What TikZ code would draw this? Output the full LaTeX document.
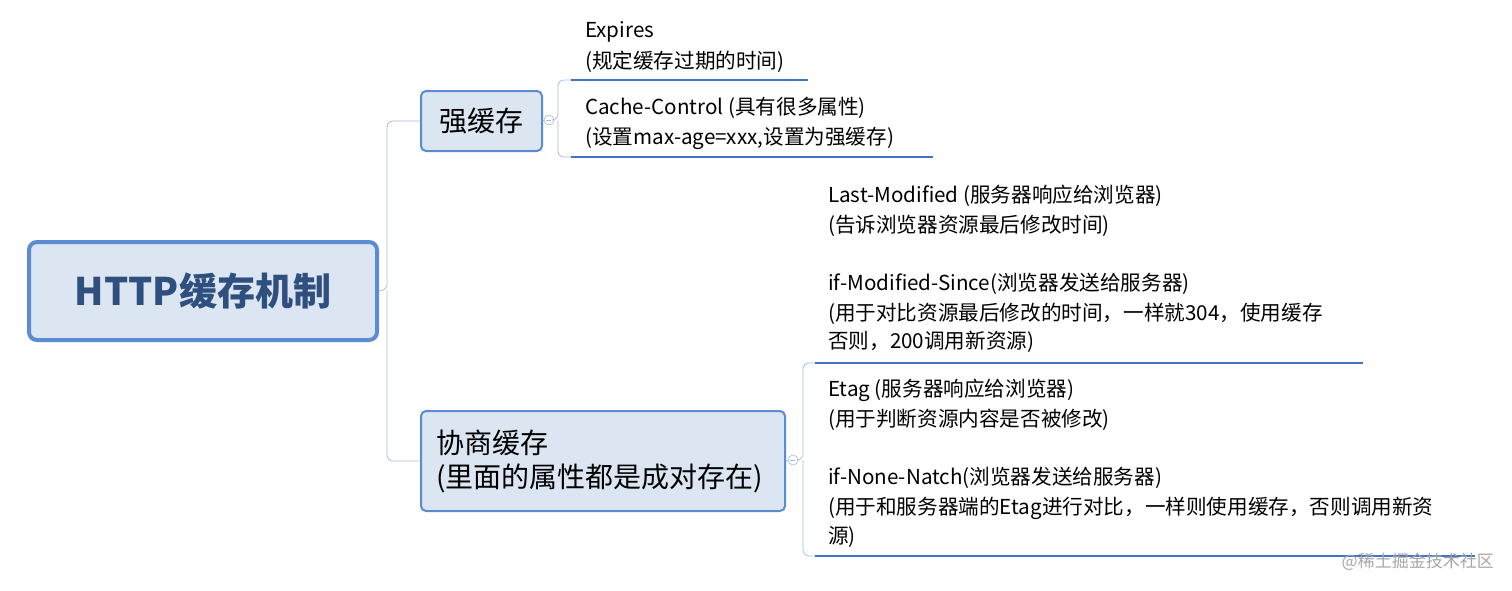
\documentclass[tikz,border=0pt]{standalone}
\usepackage{fontspec}
\setmainfont{Noto Sans CJK SC}
\definecolor{bord}{HTML}{5B8BD0}
\definecolor{fillb}{HTML}{DCE6F2}
\definecolor{uline}{HTML}{4472C4}
\definecolor{conn}{HTML}{A6BCDC}
\definecolor{maintxt}{HTML}{2F4F7F}
\begin{document}
\begin{tikzpicture}[x=1pt,y=-1pt,
  box/.style={draw=bord,fill=fillb,rounded corners=5pt,line width=2pt,inner sep=0pt,anchor=north west},
  lbl/.style={anchor=west,inner sep=0pt,font=\fontsize{20.6}{24}\selectfont},
  ul/.style={draw=uline,line width=2pt},
  cn/.style={draw=conn,line width=0.8pt,rounded corners=6pt},
  knob/.style={circle,draw=conn,fill=white,minimum size=10pt,inner sep=0pt,line width=0.6pt}]
\useasboundingbox (0,0) rectangle (1512,590);
\node[box,line width=4pt,rounded corners=8pt,minimum width=348pt,minimum height=98pt,font=\fontsize{38}{44}\selectfont\bfseries,text=maintxt] (main) at (27,240) {HTTP缓存机制};
\node[box,minimum width=121pt,minimum height=60pt,font=\fontsize{28}{32}\selectfont] (qiang) at (420,90) {强缓存};
\node[box,minimum width=364pt,minimum height=100pt,font=\fontsize{28}{34}\selectfont,align=left,text width=334pt,inner xsep=0pt] (xie) at (420,410) {协商缓存\\(里面的属性都是成对存在)};
\coordinate (j1) at (387,290);
\draw[cn] (main.east) -- (j1) |- (qiang.west);
\draw[cn] (j1) |- (xie.west);
% strong cache branch
\node[knob] (k1) at (549,120) {};
\draw[conn,line width=0.6pt] (k1.west)++(2.5,0) -- ++(5,0);
\draw[cn] (qiang.east) -- (k1.west);
\coordinate (e1) at (571,80); \coordinate (e2) at (808,80);
\coordinate (c1) at (571,157); \coordinate (c2) at (933,157);
\draw[cn] (k1.east) -- (558,120) |- (e1);
\draw[cn] (558,120) |- (c1);
\draw[ul] (e1) -- (e2);
\draw[ul] (c1) -- (c2);
\node[lbl] (t1) at (585,32) {Expires};
\node[lbl] (t2) at (585,62) {(规定缓存过期的时间)};
\node[lbl] (t3) at (585,108) {Cache-Control (具有很多属性)};
\node[lbl] (t4) at (585,138) {(设置max-age=xxx,设置为强缓存)};
% negotiated branch
\node[knob] (k2) at (793,460) {};
\draw[conn,line width=0.6pt] (k2.west)++(2.5,0) -- ++(5,0);
\draw[cn] (xie.east) -- (k2.west);
\coordinate (f1) at (815,363); \coordinate (f2) at (1363,363);
\coordinate (g1) at (815,556); \coordinate (g2) at (1475,556);
\draw[cn] (k2.east) -- (803,460) |- (f1);
\draw[cn] (803,460) |- (g1);
\draw[ul] (f1) -- (f2);
\draw[ul] (g1) -- (g2);
\node[lbl] (a1) at (828,196) {Last-Modified (服务器响应给浏览器)};
\node[lbl] (a2) at (828,226) {(告诉浏览器资源最后修改时间)};
\node[lbl] (a3) at (828,284) {if-Modified-Since(浏览器发送给服务器)};
\node[lbl] (a4) at (828,314) {(用于对比资源最后修改的时间，一样就304，使用缓存};
\node[lbl] (a5) at (828,342) {否则，200调用新资源)};
\node[lbl] (b1) at (828,390) {Etag (服务器响应给浏览器)};
\node[lbl] (b2) at (828,420) {(用于判断资源内容是否被修改)};
\node[lbl] (b3) at (828,478) {if-None-Natch(浏览器发送给服务器)};
\node[lbl] (b4) at (828,508) {(用于和服务器端的Etag进行对比，一样则使用缓存，否则调用新资};
\node[lbl] (b5) at (828,537) {源)};
\node[lbl,anchor=east,text=black!35,font=\fontsize{17}{20}\selectfont] (wm) at (1494,562) {@稀土掘金技术社区};
\end{tikzpicture}
\end{document}
